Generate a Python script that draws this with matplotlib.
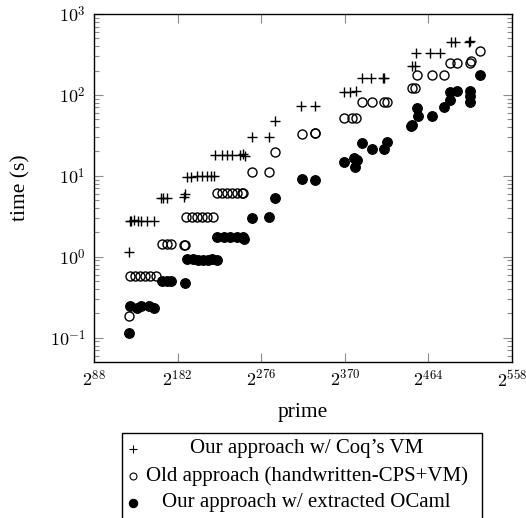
import matplotlib
matplotlib.use("Agg")
import matplotlib.pyplot as plt
from matplotlib.lines import Line2D
from matplotlib.patches import Rectangle
from matplotlib.ticker import FixedLocator, FuncFormatter, LogLocator, NullFormatter
import numpy as np

plt.rcParams['font.family'] = ['Liberation Serif', 'DejaVu Serif']
plt.rcParams['mathtext.fontset'] = 'cm'

# ---- data: log2(prime) in bits, time in seconds ----
vm_bits = [127, 128, 130, 133, 137, 141, 148, 155,
           163, 166, 170, 189, 190,
           193, 197, 204, 209, 215, 220, 223,
           224, 232, 237, 243, 252, 256, 258,
           266, 285, 291,
           321, 336,
           369, 376, 383, 389, 400, 413, 414,
           445, 449, 450, 466, 477,
           489, 494, 510, 511]
vm_time = [1.15, 2.8, 2.8, 2.85, 2.8, 2.8, 2.8, 2.8,
           5.4, 5.4, 5.4, 5.5, 5.9,
           9.6, 9.8, 10.1, 10.1, 10.1, 10.1, 10.1,
           18.0, 18.2, 18.2, 18.2, 18.2, 18.5, 17.8,
           30, 30, 48,
           73, 73,
           110, 110, 113, 160, 160, 162, 160,
           228, 230, 327, 327, 327,
           455, 455, 455, 468]

old_bits = [127, 128, 134, 140, 145, 151, 158,
            164, 170, 175, 189, 190,
            192, 198, 204, 209, 215, 222,
            226, 232, 237, 243, 249, 254, 256,
            266, 285, 291,
            322, 336, 337,
            369, 378, 383, 389, 401, 414, 417,
            445, 449, 451, 468, 481,
            488, 496, 511, 512, 522]
old_time = [0.183, 0.58, 0.58, 0.58, 0.58, 0.58, 0.58,
            1.44, 1.44, 1.44, 1.41, 1.41,
            3.1, 3.1, 3.1, 3.1, 3.1, 3.1,
            6.1, 6.1, 6.1, 6.1, 6.1, 6.1, 6.1,
            11.3, 11.3, 19.8,
            32.8, 33.5, 33.5,
            52.6, 52.6, 52.6, 81, 81, 81, 81,
            123, 123, 177, 177, 177,
            250, 250, 250, 260, 352]

ocaml_bits = [127, 129, 136, 141, 150, 156,
              164, 170, 175, 190,
              193, 199, 205, 210, 216, 221, 226,
              226, 234, 241, 249, 255, 257,
              266, 285, 291,
              322, 337,
              369, 380, 382, 384, 389, 401, 414, 417,
              444, 446, 451, 452, 468, 481,
              488, 488, 496, 511, 511, 511, 522]
ocaml_time = [0.115, 0.25, 0.23, 0.25, 0.25, 0.23,
              0.5, 0.5, 0.5, 0.47,
              0.93, 0.95, 0.92, 0.92, 0.92, 0.93, 0.92,
              1.78, 1.78, 1.78, 1.76, 1.78, 1.65,
              3.0, 3.1, 5.3,
              9.2, 9.0,
              15, 16.5, 13, 15.8, 25.3, 21.4, 21.4, 26,
              41.4, 42.7, 68.6, 55, 55, 71.8,
              110, 86.7, 113, 112, 97, 82.7, 177]

labels = ["Our approach w/ Coq\u2019s VM",
          "Old approach (handwritten-CPS+VM)",
          "Our approach w/ extracted OCaml"]
xtick_bits = [88, 182, 276, 370, 464, 558]
ytick_exps = [-1, 0, 1, 2, 3]

W, H = 526, 518
fig = plt.figure(figsize=(W / 100, H / 100), dpi=100)
ax = fig.add_axes([94 / W, 1 - 362 / H, (512 - 94) / W, (362 - 14) / H])

def p2(b):
    return np.power(2.0, np.asarray(b, dtype=float))

ax.plot(p2(vm_bits), vm_time, ls='none', marker='+', ms=7, mew=1.0, color='black')
ax.plot(p2(old_bits), old_time, ls='none', marker='o', ms=6.5, mew=1.0,
        mfc='none', mec='black')
ax.plot(p2(ocaml_bits), ocaml_time, ls='none', marker='o', ms=7, mew=0.8,
        mfc='black', mec='black')

ax.set_xscale('log', base=2)
ax.set_yscale('log')
ax.set_xlim(2.0 ** 88, 2.0 ** 558)
ax.set_ylim(10 ** -1.3, 10 ** 3)

ax.xaxis.set_major_locator(FixedLocator(p2(xtick_bits)))
ax.xaxis.set_major_formatter(FuncFormatter(lambda v, p: r"$2^{%d}$" % round(np.log2(v))))
ax.xaxis.set_minor_locator(FixedLocator([]))
ax.yaxis.set_major_locator(FixedLocator([10.0 ** e for e in ytick_exps]))
ax.yaxis.set_major_formatter(FuncFormatter(lambda v, p: r"$10^{%d}$" % round(np.log10(v))))
ax.yaxis.set_minor_locator(LogLocator(base=10, subs=np.arange(2, 10)))
ax.yaxis.set_minor_formatter(NullFormatter())

ax.tick_params(which='both', direction='in', top=True, right=True, color='0.55',
               labelsize=13, width=0.8)
ax.tick_params(which='major', length=6.2, pad=6)
ax.tick_params(which='minor', length=3.8)
for s in ax.spines.values():
    s.set_linewidth(1.0)
    s.set_color('black')

ax.set_xlabel("prime", fontsize=15.5, labelpad=9)
ax.set_ylabel("time (s)", fontsize=15.5, labelpad=14)

# legend (pgfplots style: marker left, text centered)
fx = lambda px: px / W
fy = lambda py: 1 - py / H
fig.add_artist(Rectangle((fx(121.7), fy(530)), fx(482.3) - fx(121.7), fy(432.7) - fy(530),
                         transform=fig.transFigure, fill=False, lw=1.0, ec='black'))
rows_y = [449, 476, 503]
styles = [dict(marker='+', ms=6, mew=0.8, color='black'),
          dict(marker='o', ms=5, mew=0.8, mfc='none', mec='black', color='black'),
          dict(marker='o', ms=6, mew=0.8, mfc='black', mec='black', color='black')]
for lab, yy, st in zip(labels, rows_y, styles):
    fig.add_artist(Line2D([fx(132.7)], [fy(yy)], transform=fig.transFigure, ls='none', **st))
    fig.text(fx(306.5), fy(yy), lab, ha='center', va='center', fontsize=15)

fig.savefig("out.png", dpi=100)
